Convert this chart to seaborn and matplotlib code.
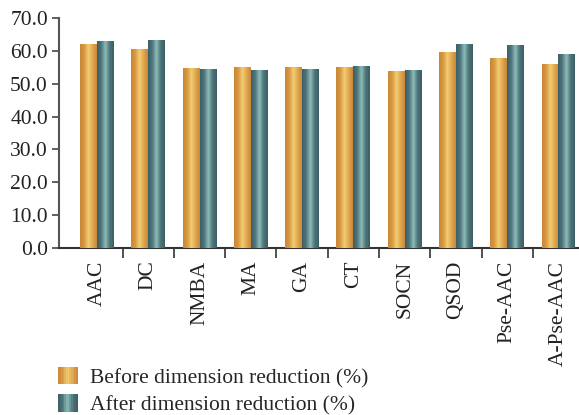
import numpy as np
import pandas as pd
import matplotlib
matplotlib.use("Agg")
import matplotlib.pyplot as plt
import seaborn as sns
from matplotlib.patches import Rectangle
from matplotlib.legend_handler import HandlerBase
from matplotlib.colors import LinearSegmentedColormap

categories = ["AAC", "DC", "NMBA", "MA", "GA", "CT", "SOCN", "QSOD", "Pse-AAC", "A-Pse-AAC"]
before = [62.0, 60.6, 54.8, 55.1, 55.1, 55.1, 53.9, 59.7, 57.8, 56.0]
after = [63.0, 63.3, 54.5, 54.2, 54.5, 55.4, 54.2, 62.1, 61.8, 59.0]
series = ["Before dimension reduction (%)", "After dimension reduction (%)"]
yticks = [0, 10, 20, 30, 40, 50, 60, 70]

df = pd.DataFrame({
    "cat": categories * 2,
    "val": before + after,
    "series": [series[0]] * len(categories) + [series[1]] * len(categories),
})

sns.set_theme(style="white")
plt.rcParams["font.family"] = ["Liberation Serif", "DejaVu Serif"]

orange_cols = ["#c9873a", "#d9993f", "#f2cd74", "#e0a84e", "#c9873a"]
teal_cols = ["#3b5f67", "#4f767c", "#8dbdb8", "#4e7479", "#3b5f67"]
cmaps = [LinearSegmentedColormap.from_list("o", orange_cols),
         LinearSegmentedColormap.from_list("t", teal_cols)]

FS = 15.5

fig = plt.figure(figsize=(5.79, 4.15), dpi=100)
ax = fig.add_axes([59 / 579, 1 - 248 / 415, 1 - 59 / 579, (248 - 18) / 415])

sns.barplot(data=df, x="cat", y="val", hue="series", hue_order=series,
            palette=["#c9873a", "#3b5f67"], width=0.66, ax=ax,
            legend=False, saturation=1, errorbar=None)

grad = np.linspace(0, 1, 64).reshape(1, -1)
for ci, cont in enumerate(ax.containers):
    for p in cont.patches:
        x0, y0 = p.get_x(), p.get_y()
        w, h = p.get_width(), p.get_height()
        im = ax.imshow(grad, cmap=cmaps[ci], aspect="auto",
                       extent=[x0, x0 + w, y0, y0 + h], zorder=3)
        im.set_clip_path(p)
        p.set_edgecolor("none")

ax.set_xlim(-0.74, 9.4)
ax.set_ylim(0, 70)
ax.set_yticks(yticks)
ax.set_yticklabels([f"{v:.1f}" for v in yticks], fontsize=FS, color="#222222")
ax.set_xticks(range(len(categories)))
ax.set_xticklabels(categories, rotation=90, fontsize=FS, color="#222222")
ax.set_xticks(np.arange(0.5, len(categories) - 1, 1.0), minor=True)
ax.tick_params(axis="x", which="major", length=0, pad=9)
ax.tick_params(axis="x", which="minor", length=7, width=1.2, color="#333333", direction="out", bottom=True)
ax.tick_params(axis="y", length=5, width=1.2, color="#444444", direction="out", left=True, pad=3)
ax.set_xlabel("")
ax.set_ylabel("")
for s in ["top", "right"]:
    ax.spines[s].set_visible(False)
ax.spines["left"].set_color("#555555")
ax.spines["left"].set_linewidth(1.5)
ax.spines["bottom"].set_color("#333333")
ax.spines["bottom"].set_linewidth(1.5)


class GradHandler(HandlerBase):
    def __init__(self, cols):
        super().__init__()
        self.cols = cols

    def create_artists(self, legend, orig_handle, xdescent, ydescent, width, height, fontsize, trans):
        n = 12
        cm = LinearSegmentedColormap.from_list("g", self.cols)
        arts = []
        for i in range(n):
            r = Rectangle((-xdescent + width * i / n, -ydescent), width / n + 0.3, height,
                          facecolor=cm((i + 0.5) / n), edgecolor="none", transform=trans)
            arts.append(r)
        return arts


h1 = Rectangle((0, 0), 1, 1)
h2 = Rectangle((0, 0), 1, 1)
fig.legend([h1, h2], series, loc="upper left", bbox_to_anchor=(58 / 579, 1 - 367 / 415),
           frameon=False, fontsize=FS, handlelength=0.9, handleheight=0.85,
           handletextpad=0.6, labelspacing=0.3, borderpad=0, borderaxespad=0,
           handler_map={h1: GradHandler(orange_cols), h2: GradHandler(teal_cols)})

fig.savefig("out.png", dpi=100)
